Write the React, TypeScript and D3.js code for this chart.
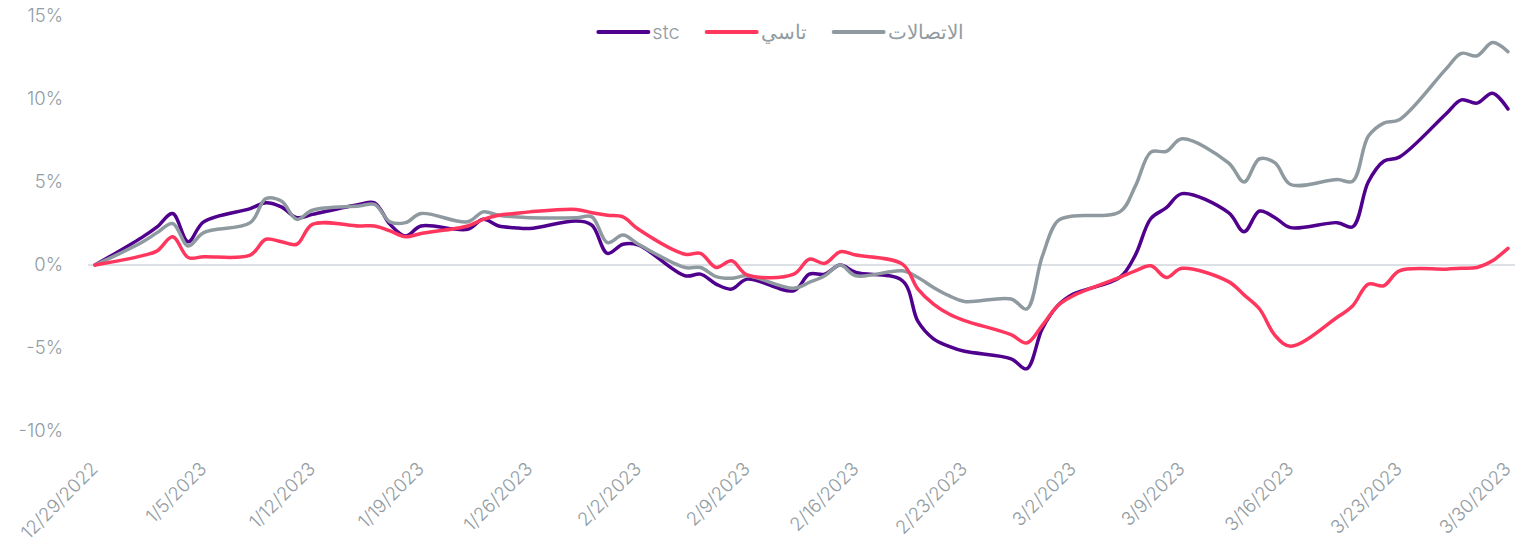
import React, { useEffect, useRef } from 'react';
import * as d3 from 'd3';

// trading days (Sun-Thu) of the Saudi market
const tradingDays = [
  '2022-12-29',
  '2023-01-01', '2023-01-02', '2023-01-03', '2023-01-04', '2023-01-05',
  '2023-01-08', '2023-01-09', '2023-01-10', '2023-01-11', '2023-01-12',
  '2023-01-15', '2023-01-16', '2023-01-17', '2023-01-18', '2023-01-19',
  '2023-01-22', '2023-01-23', '2023-01-24', '2023-01-25', '2023-01-26',
  '2023-01-29', '2023-01-30', '2023-01-31', '2023-02-01', '2023-02-02',
  '2023-02-05', '2023-02-06', '2023-02-07', '2023-02-08', '2023-02-09',
  '2023-02-12', '2023-02-13', '2023-02-14', '2023-02-15', '2023-02-16',
  '2023-02-19', '2023-02-20', '2023-02-21', '2023-02-22', '2023-02-23',
  '2023-02-26', '2023-02-27', '2023-02-28', '2023-03-01', '2023-03-02',
  '2023-03-05', '2023-03-06', '2023-03-07', '2023-03-08', '2023-03-09',
  '2023-03-12', '2023-03-13', '2023-03-14', '2023-03-15', '2023-03-16',
  '2023-03-19', '2023-03-20', '2023-03-21', '2023-03-22', '2023-03-23',
  '2023-03-26', '2023-03-27', '2023-03-28', '2023-03-29', '2023-03-30',
];

const stcValues = [
  0,
  1.65, 2.3, 3.1, 1.4, 2.6,
  3.4, 3.75, 3.5, 2.85, 3.05,
  3.65, 3.75, 2.45, 1.75, 2.35,
  2.15, 2.75, 2.35, 2.25, 2.2,
  2.65, 2.4, 0.7, 1.25, 1.2,
  -0.65, -0.55, -1.15, -1.45, -0.85,
  -1.55, -0.55, -0.55, 0.0, -0.45,
  -0.95, -3.4, -4.45, -4.9, -5.2,
  -5.65, -6.25, -3.85, -2.45, -1.75,
  -0.75, 0.6, 2.8, 3.45, 4.3,
  3.15, 2.0, 3.25, 2.85, 2.25,
  2.55, 2.3, 5.0, 6.25, 6.5,
  9.1, 9.95, 9.75, 10.35, 9.4,
];

const tasiValues = [
  0,
  0.55, 0.85, 1.7, 0.45, 0.5,
  0.6, 1.55, 1.4, 1.25, 2.45,
  2.35, 2.35, 2.05, 1.7, 1.9,
  2.35, 2.75, 3.0, 3.1, 3.2,
  3.35, 3.15, 3.0, 2.9, 2.15,
  0.65, 0.7, -0.15, 0.25, -0.6,
  -0.55, 0.35, 0.1, 0.8, 0.6,
  0.05, -1.45, -2.35, -2.95, -3.35,
  -4.2, -4.7, -3.65, -2.45, -1.85,
  -0.75, -0.35, -0.05, -0.75, -0.2,
  -1.0, -1.8, -2.65, -4.25, -4.9,
  -3.15, -2.45, -1.15, -1.25, -0.35,
  -0.25, -0.2, -0.15, 0.25, 1.0,
];

const telecomValues = [
  0,
  1.35, 1.95, 2.5, 1.15, 1.95,
  2.55, 4.0, 3.85, 2.75, 3.3,
  3.55, 3.65, 2.6, 2.55, 3.1,
  2.6, 3.2, 3.0, 2.9, 2.85,
  2.85, 2.9, 1.35, 1.8, 1.25,
  -0.15, -0.15, -0.7, -0.8, -0.65,
  -1.4, -1.05, -0.65, 0.0, -0.65,
  -0.35, -0.75, -1.35, -1.85, -2.2,
  -2.05, -2.65, 0.5, 2.65, 2.95,
  3.2, 4.75, 6.8, 6.85, 7.6,
  6.15, 5.0, 6.4, 6.15, 4.85,
  5.15, 5.05, 7.75, 8.55, 8.75,
  11.8, 12.75, 12.6, 13.4, 12.85,
];

const seriesNames = ['stc', 'تاسي', 'الاتصالات'];
const seriesColors = ['#4F008C', '#FF375E', '#8F9AA0'];
const yTicks = [-10, -5, 0, 5, 10, 15];

const App = () => {
  const ref = useRef<SVGSVGElement>(null);

  useEffect(() => {
    document.body.style.margin = '0';
    const width = 1526;
    const height = 544;
    const svg = d3.select(ref.current).attr('width', width).attr('height', height);
    svg.selectAll('*').remove();

    const font = "Inter, 'DejaVu Sans', sans-serif";
    const textColor = '#929CA2';

    const parse = d3.timeParse('%Y-%m-%d');
    const dates = tradingDays.map(d => parse(d) as Date);

    const x = d3.scaleTime()
      .domain(d3.extent(dates) as [Date, Date])
      .range([95, 1508]);
    const y = d3.scaleLinear().domain([-10, 15]).range([431, 16]);

    // zero line
    svg.append('line')
      .attr('x1', x.range()[0] - 7)
      .attr('x2', x.range()[1] + 7)
      .attr('y1', y(0))
      .attr('y2', y(0))
      .attr('stroke', '#DDE1E5')
      .attr('stroke-width', 2);

    // y labels
    svg.append('g')
      .selectAll('text')
      .data(yTicks)
      .enter()
      .append('text')
      .attr('x', 63)
      .attr('y', d => y(d))
      .attr('dy', '0.35em')
      .attr('text-anchor', 'end')
      .attr('fill', textColor)
      .style('font-family', font)
      .style('font-size', '18.5px')
      .style('font-weight', 300)
      .text(d => d + '%');

    // x labels, one per week (Thursdays)
    const weekTicks = dates.filter(d => d.getDay() === 4);
    const fmt = d3.timeFormat('%-m/%-d/%Y');
    svg.append('g')
      .selectAll('text')
      .data(weekTicks)
      .enter()
      .append('text')
      .attr('transform', d => `translate(${x(d) + 4},470) rotate(-45)`)
      .attr('text-anchor', 'end')
      .attr('fill', textColor)
      .style('font-family', font)
      .style('font-size', '18.5px')
      .style('font-weight', 300)
      .text(d => fmt(d));

    const allSeries = [stcValues, tasiValues, telecomValues];
    const line = d3.line<number>()
      .x((_, i) => x(dates[i]))
      .y(d => y(d))
      .curve(d3.curveCatmullRom.alpha(0.5));

    // draw order: stc, telecom, tasi on top
    [0, 2, 1].forEach(si => {
      svg.append('path')
        .datum(allSeries[si])
        .attr('d', line)
        .attr('fill', 'none')
        .attr('stroke', seriesColors[si])
        .attr('stroke-width', 3.5)
        .attr('stroke-linejoin', 'round')
        .attr('stroke-linecap', 'round');
    });

    // legend
    const legend = svg.append('g');
    let cx = 0;
    seriesNames.forEach((name, i) => {
      const g = legend.append('g').attr('transform', `translate(${cx},0)`);
      g.append('line')
        .attr('x1', 2).attr('x2', 52)
        .attr('y1', 0).attr('y2', 0)
        .attr('stroke', seriesColors[i])
        .attr('stroke-width', 4)
        .attr('stroke-linecap', 'round');
      const t = g.append('text')
        .attr('x', 56)
        .attr('y', 0)
        .attr('dy', '0.35em')
        .attr('fill', textColor)
        .style('font-family', font)
        .style('font-size', '20px')
        .style('font-weight', 300)
        .text(name);
      const w = (t.node() as SVGTextElement).getComputedTextLength();
      cx += 56 + w + 25;
    });
    const total = cx - 25;
    legend.attr('transform', `translate(${780 - total / 2},32)`);
  }, []);

  return <svg ref={ref} style={{ display: 'block' }}></svg>;
};

export default App;
